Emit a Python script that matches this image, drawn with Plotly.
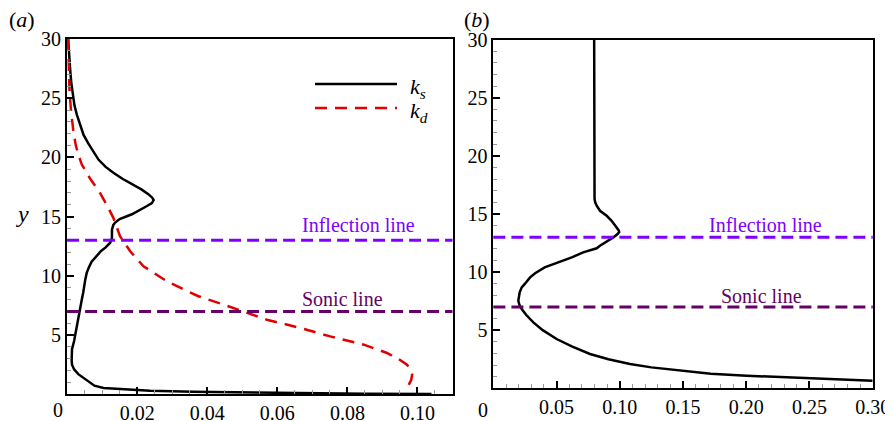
import plotly.graph_objects as go

# ---------------- data ----------------
# panel (a): k_s (solid black)
ks_a_y = [30.0, 29.3, 28.3, 27.3, 26.3, 25.3, 24.4, 23.6, 22.8, 21.9, 21.2, 20.5, 19.8, 19.2, 18.7,
          18.2, 17.7, 17.3, 16.9, 16.6, 16.4, 16.15, 15.9, 15.6, 15.2, 14.8, 14.5, 14.3, 13.9, 13.5,
          13.2, 12.8, 12.4, 12.1, 11.6, 11.2, 10.7, 10.25, 9.7, 9.26, 8.6, 8.0, 6.9, 6.0, 5.2, 4.5,
          3.8, 3.3, 2.9, 2.5, 2.1, 1.7, 1.4, 1.05, 0.73, 0.53, 0.39, 0.30, 0.22, 0.13, 0.08, 0.05, 0.03]
ks_a_x = [0.0003, 0.0004, 0.0006, 0.0009, 0.0012, 0.0016, 0.0021, 0.0028, 0.0036, 0.0047, 0.0060,
          0.0075, 0.0090, 0.0110, 0.0132, 0.0158, 0.0190, 0.0212, 0.0232, 0.0243, 0.0247, 0.0242,
          0.0228, 0.0208, 0.0185, 0.0150, 0.0137, 0.0132, 0.0128, 0.0128, 0.0128, 0.0123, 0.0110,
          0.0097, 0.0082, 0.0070, 0.0062, 0.0056, 0.0052, 0.0050, 0.0046, 0.0042, 0.0035, 0.0030,
          0.0026, 0.0020, 0.0014, 0.0013, 0.0013, 0.0014, 0.0020, 0.0032, 0.0047, 0.0062, 0.0078,
          0.0104, 0.0199, 0.0237, 0.0360, 0.0550, 0.0670, 0.0850, 0.1040]

# panel (a): k_d (dashed red)
kd_a_y = [30.0, 29.3, 27.5, 25.6, 24.0, 22.2, 21.0, 20.25, 19.4, 18.2, 17.0, 16.0, 14.9, 13.35,
          12.08, 10.81, 9.54, 8.9, 8.28, 7.57, 7.0, 6.3, 5.6, 4.89, 4.19, 3.49, 3.0, 2.5, 2.1,
          1.66, 1.2, 0.8]
kd_a_x = [0.0003, 0.0004, 0.0005, 0.0007, 0.0011, 0.0018, 0.0025, 0.0032, 0.0042, 0.0066, 0.0094,
          0.0113, 0.0132, 0.0151, 0.0180, 0.0218, 0.0285, 0.0330, 0.0375, 0.0447, 0.0504, 0.0570,
          0.0666, 0.0751, 0.0847, 0.0913, 0.0945, 0.0970, 0.0980, 0.0985, 0.0982, 0.0975]

# panel (b): single solid black curve
kb_y = [30.0, 25.0, 20.0, 17.0, 16.3, 16.0, 15.7, 15.27, 14.84, 14.41, 13.93, 13.6, 13.45, 13.25,
        12.98, 12.6, 12.26, 12.04, 11.69, 11.26, 10.8, 10.4, 9.9, 9.54, 9.0, 8.68, 8.25, 7.8,
        7.53, 7.2, 6.82, 6.3, 5.67, 5.0, 4.24, 3.6, 2.95, 2.5, 2.09, 1.8, 1.51, 1.25, 1.08, 0.86, 0.65]
kb_x = [0.0797, 0.0797, 0.0797, 0.0798, 0.0800, 0.0805, 0.0817, 0.0843, 0.0896, 0.0935, 0.0972,
        0.0990, 0.0995, 0.0980, 0.0948, 0.0890, 0.0843, 0.0817, 0.0710, 0.0620, 0.0510, 0.0405,
        0.0330, 0.0290, 0.0250, 0.0224, 0.0208, 0.0199, 0.0197, 0.0205, 0.0224, 0.0260, 0.0316,
        0.0390, 0.0500, 0.0620, 0.0764, 0.0910, 0.1080, 0.1250, 0.1475, 0.1720, 0.2003, 0.2530, 0.3000]

inflection_y = 13.0
sonic_y = 7.0

xa_ticks = [0.02, 0.04, 0.06, 0.08, 0.10]
xa_labels = ["0.02", "0.04", "0.06", "0.08", "0.10"]
xb_ticks = [0.05, 0.10, 0.15, 0.20, 0.25, 0.30]
xb_labels = ["0.05", "0.10", "0.15", "0.20", "0.25", "0.30"]
y_ticks = [5, 10, 15, 20, 25, 30]
y_labels = ["5", "10", "15", "20", "25", "30"]

# ---------------- figure ----------------
W, H = 893, 421
OFF = 8  # page body margin offset
SERIF = "Liberation Serif"
INFL_C = "#8000ff"
SONIC_C = "#660066"


def px(x):
    return (x - OFF) / W


def py(y):
    return 1 - (y - OFF) / H


fig = go.Figure()
fig.add_trace(go.Scatter(x=ks_a_x, y=ks_a_y, mode="lines", name="k_s",
                         line=dict(color="black", width=2.5), xaxis="x", yaxis="y"))
fig.add_trace(go.Scatter(x=kd_a_x, y=kd_a_y, mode="lines", name="k_d",
                         line=dict(color="#e00000", width=2.5, dash="12px,8px"), xaxis="x", yaxis="y"))
fig.add_trace(go.Scatter(x=kb_x, y=kb_y, mode="lines", name="k",
                         line=dict(color="black", width=2.5), xaxis="x2", yaxis="y2"))

# reference lines
for xr, yr in (("x domain", "y"), ("x2 domain", "y2")):
    fig.add_shape(type="line", xref=xr, yref=yr, x0=0, x1=1, y0=inflection_y, y1=inflection_y,
                  line=dict(color=INFL_C, width=3, dash="12px,6px"))
    fig.add_shape(type="line", xref=xr, yref=yr, x0=0, x1=1, y0=sonic_y, y1=sonic_y,
                  line=dict(color=SONIC_C, width=3, dash="12px,6px"))

tickfont = dict(family=SERIF, size=20, color="black")
common_axis = dict(showline=True, linecolor="black", linewidth=2, mirror=True,
                   ticks="inside", ticklen=7, tickwidth=1.5, tickcolor="black",
                   showgrid=False, zeroline=False, tickfont=tickfont, tickmode="array",
                   automargin=False)

fig.update_layout(
    width=W, height=H,
    margin=dict(l=0, r=0, t=0, b=0, pad=0, autoexpand=False),
    paper_bgcolor="white", plot_bgcolor="white",
    showlegend=False,
    font=dict(family=SERIF),
    xaxis=dict(domain=[px(67.1), px(452.5)], range=[0, 0.11], anchor="y",
               tickvals=xa_ticks, ticktext=xa_labels,
               minor=dict(ticks="inside", ticklen=4, tickcolor="#999999", tickwidth=1,
                          dtick=0.005, tick0=0),
               **common_axis),
    yaxis=dict(domain=[py(394.3), py(39.0)], range=[0, 30], anchor="x",
               tickvals=y_ticks, ticktext=y_labels,
               minor=dict(ticks="inside", ticklen=4, tickcolor="#999999", tickwidth=1,
                          dtick=1, tick0=0),
               **common_axis),
    xaxis2=dict(domain=[px(493.4), px(872.7)], range=[0, 0.30], anchor="y2",
                tickvals=xb_ticks, ticktext=xb_labels,
                minor=dict(ticks="inside", ticklen=4, tickcolor="#999999", tickwidth=1,
                           dtick=0.01, tick0=0),
                **common_axis),
    yaxis2=dict(domain=[py(388.3), py(39.5)], range=[0, 30], anchor="x2",
                tickvals=y_ticks, ticktext=y_labels,
                minor=dict(ticks="inside", ticklen=4, tickcolor="#999999", tickwidth=1,
                           dtick=1, tick0=0),
                **common_axis),
)


def note(text, x, y, size=20, color="black", xanchor="center"):
    return dict(text=text, x=px(x), y=py(y), xref="paper", yref="paper",
                xanchor=xanchor, yanchor="middle", showarrow=False,
                font=dict(family=SERIF, size=size, color=color))


ann = [
    note("(<i>a</i>)", 22, 20, size=22),
    note("(<i>b</i>)", 477, 20, size=22),
    note("<i>y</i>", 22, 214, size=24),
    note("0", 57.5, 410),
    note("0", 482.5, 410),
    note("Inflection line", 358.8, 225, color=INFL_C),
    note("Inflection line", 765.3, 225, color=INFL_C),
    note("Sonic line", 342, 299, color=SONIC_C),
    note("Sonic line", 761.8, 295.7, color=SONIC_C),
    note("<i>k</i><sub><i>s</i></sub>", 408, 88, size=22, xanchor="left"),
    note("<i>k</i><sub><i>d</i></sub>", 408, 112, size=22, xanchor="left"),
]
fig.update_layout(annotations=ann)

# legend sample lines
fig.add_shape(type="line", xref="paper", yref="paper", x0=px(315), x1=px(397), y0=py(84), y1=py(84),
              line=dict(color="black", width=2.5))
fig.add_shape(type="line", xref="paper", yref="paper", x0=px(315), x1=px(397), y0=py(108), y1=py(108),
              line=dict(color="#e00000", width=2.5, dash="12px,8px"))

fig.write_html("out.html")
